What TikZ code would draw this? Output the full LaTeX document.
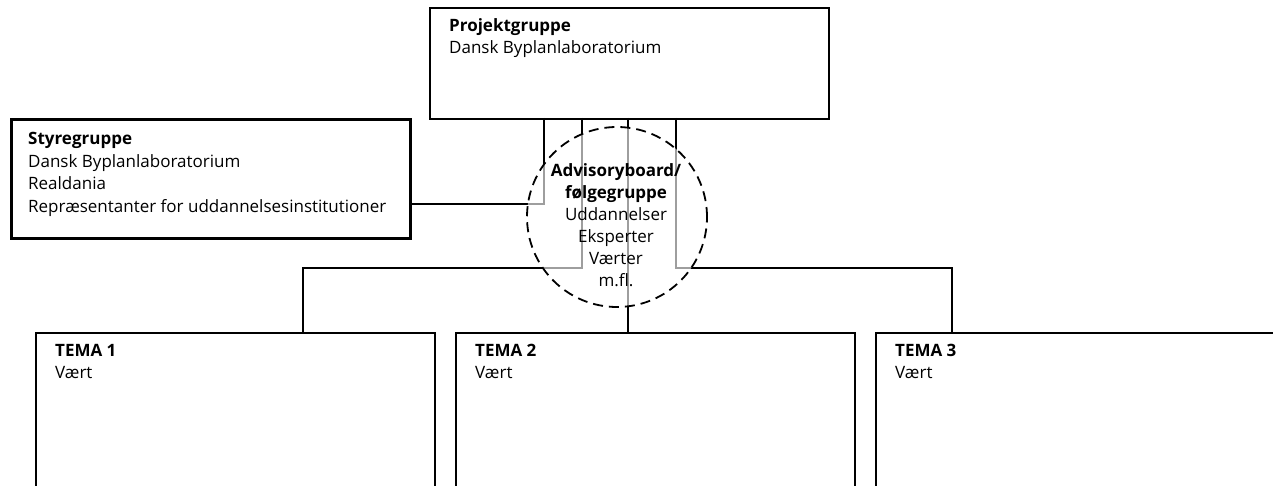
\documentclass[tikz,border=0pt]{standalone}
\usepackage{fontspec}
\setmainfont{Open Sans}
\begin{document}
\begin{tikzpicture}[x=1pt,y=-1pt,
  box/.style={draw=black, line width=1.8pt, fill=none, inner sep=0pt},
  thickbox/.style={draw=black, line width=2.8pt, inner sep=0pt},
  conn/.style={draw=black, line width=1.6pt},
  txt/.style={inner sep=0pt, align=left, font=\fontsize{17}{22.5}\selectfont},
  ctxt/.style={inner sep=0pt, align=center, font=\fontsize{17}{22}\selectfont},
  advis/.style={draw=black, dashed, dash pattern=on 10pt off 6pt, line width=1.8pt, fill=white, fill opacity=0.62}
]
\useasboundingbox (0,0) rectangle (1273,486);
\clip (0,0) rectangle (1273,486);

% boxes
\node[box, anchor=north west, minimum width=399pt, minimum height=111pt] (proj) at (429,7) {};
\node[thickbox, anchor=north west, minimum width=399pt, minimum height=119pt] (styr) at (10,118) {};
\node[box, anchor=north west, minimum width=399pt, minimum height=200pt] (t1) at (35,332) {};
\node[box, anchor=north west, minimum width=399pt, minimum height=200pt] (t2) at (455,332) {};
\node[box, anchor=north west, minimum width=420pt, minimum height=200pt] (t3) at (875,332) {};

% connector coordinates
\coordinate (pa) at (544,118);
\coordinate (pb) at (582,118);
\coordinate (pc) at (628,118);
\coordinate (pd) at (676,118);
\coordinate (sa) at (409,204);
\coordinate (ta) at (303,332);
\coordinate (tc) at (628,332);
\coordinate (td) at (952,332);

\draw[conn] (pa) |- (sa);
\draw[conn] (pb) -- ++(0,150) -| (ta);
\draw[conn] (pc) -- (tc);
\draw[conn] (pd) -- ++(0,150) -| (td);

% advisory circle
\node[advis, circle, minimum size=180pt, inner sep=0pt] (adv) at (617,217) {};

% texts
\node[txt, anchor=north west] (projtxt) at (449,15.3) {\strut\textbf{Projektgruppe}\\Dansk Byplanlaboratorium};
\node[txt, anchor=north west] (styrtxt) at (28,128.8) {\strut\textbf{Styregruppe}\\Dansk Byplanlaboratorium\\Realdania\\Repræsentanter for uddannelsesinstitutioner};
\node[ctxt, anchor=north] (advtxt) at (616,161.3) {\strut\textbf{Advisoryboard/}\\\textbf{følgegruppe}\\Uddannelser\\Eksperter\\Værter\\m.fl.};
\node[txt, anchor=north west] (t1txt) at (55,340.3) {\strut\textbf{TEMA 1}\\Vært};
\node[txt, anchor=north west] (t2txt) at (475,340.3) {\strut\textbf{TEMA 2}\\Vært};
\node[txt, anchor=north west] (t3txt) at (895,340.3) {\strut\textbf{TEMA 3}\\Vært};
\end{tikzpicture}
\end{document}
